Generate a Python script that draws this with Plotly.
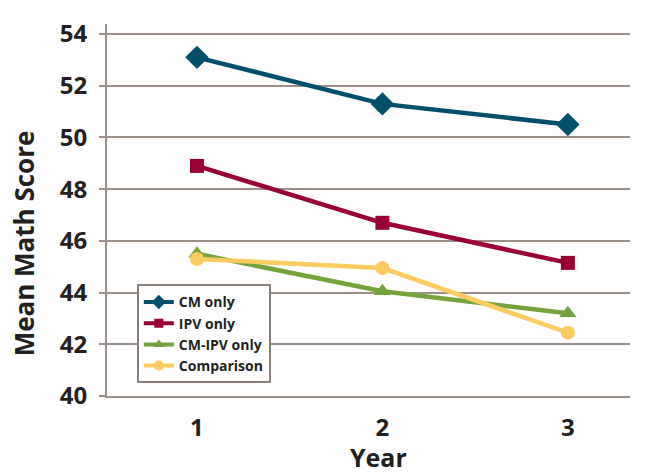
import plotly.graph_objects as go

years = [1, 2, 3]
cm_only = [53.1, 51.3, 50.5]
ipv_only = [48.9, 46.7, 45.15]
cm_ipv_only = [45.5, 44.05, 43.2]
comparison = [45.3, 44.95, 42.45]
y_ticks = [40, 42, 44, 46, 48, 50, 52, 54]

series = [
    ("CM only", cm_only, "#004F6B", "diamond", 18, 11),
    ("IPV only", ipv_only, "#9A0033", "square", 14, 9),
    ("CM-IPV only", cm_ipv_only, "#74A23B", "triangle-up", 15, 10),
    ("Comparison", comparison, "#FDCB5F", "circle", 14, 10),
]

fig = go.Figure()
for name, vals, color, sym, size, lsize in series:
    fig.add_trace(go.Scatter(
        x=years, y=vals, name=name, mode="lines+markers", legendgroup=name,
        showlegend=False,
        line=dict(color=color, width=4.5),
        marker=dict(symbol=sym, size=size, color=color),
    ))
for name, vals, color, sym, size, lsize in series:
    fig.add_trace(go.Scatter(
        x=[None], y=[None], name=name, mode="lines+markers", legendgroup=name,
        line=dict(color=color, width=4),
        marker=dict(symbol=sym, size=lsize, color=color),
    ))

grid = "#9C8F89"
font_family = "Open Sans, DejaVu Sans, sans-serif"
fig.update_layout(
    width=645, height=474,
    margin=dict(l=107, r=15, t=24, b=78),
    plot_bgcolor="white", paper_bgcolor="white",
    font=dict(family=font_family, color="#231F20"),
    showlegend=True,
    legend=dict(
        x=0.057, y=0.30, xanchor="left", yanchor="top",
        bordercolor="#8A7F78", borderwidth=2, bgcolor="white",
        font=dict(size=14, family=font_family, weight="bold", color="#231F20"),
        tracegroupgap=0, itemwidth=30,
    ),
    xaxis=dict(
        range=[0.515, 3.335], tickvals=years, ticktext=[str(y) for y in years],
        showgrid=False, zeroline=False, showline=True, linecolor=grid, linewidth=2,
        ticks="", tickfont=dict(size=24, weight="bold"), automargin=False,
        ticklabelstandoff=9,
    ),
    yaxis=dict(
        range=[40, 54.39], tickvals=y_ticks,
        showgrid=True, gridcolor=grid, gridwidth=2, zeroline=False,
        showline=True, linecolor=grid, linewidth=2,
        ticks="outside", ticklen=6, tickcolor=grid, tickwidth=2,
        tickfont=dict(size=24, weight="bold"), automargin=False,
        ticklabelstandoff=7,
    ),
    annotations=[
        dict(text="<b>Mean Math Score</b>", textangle=-90, xref="paper", yref="paper",
             x=-0.157, y=0.41, xanchor="center", yanchor="middle", showarrow=False,
             font=dict(size=26, color="#231F20")),
        dict(text="<b>Year</b>", xref="x", yref="paper",
             x=1.98, y=-0.165, xanchor="center", yanchor="middle", showarrow=False,
             font=dict(size=25, color="#231F20")),
    ],
)

fig.write_html("out.html", config={"displayModeBar": False},
               post_script="document.body.style.margin='0';document.body.style.overflow='hidden';")
